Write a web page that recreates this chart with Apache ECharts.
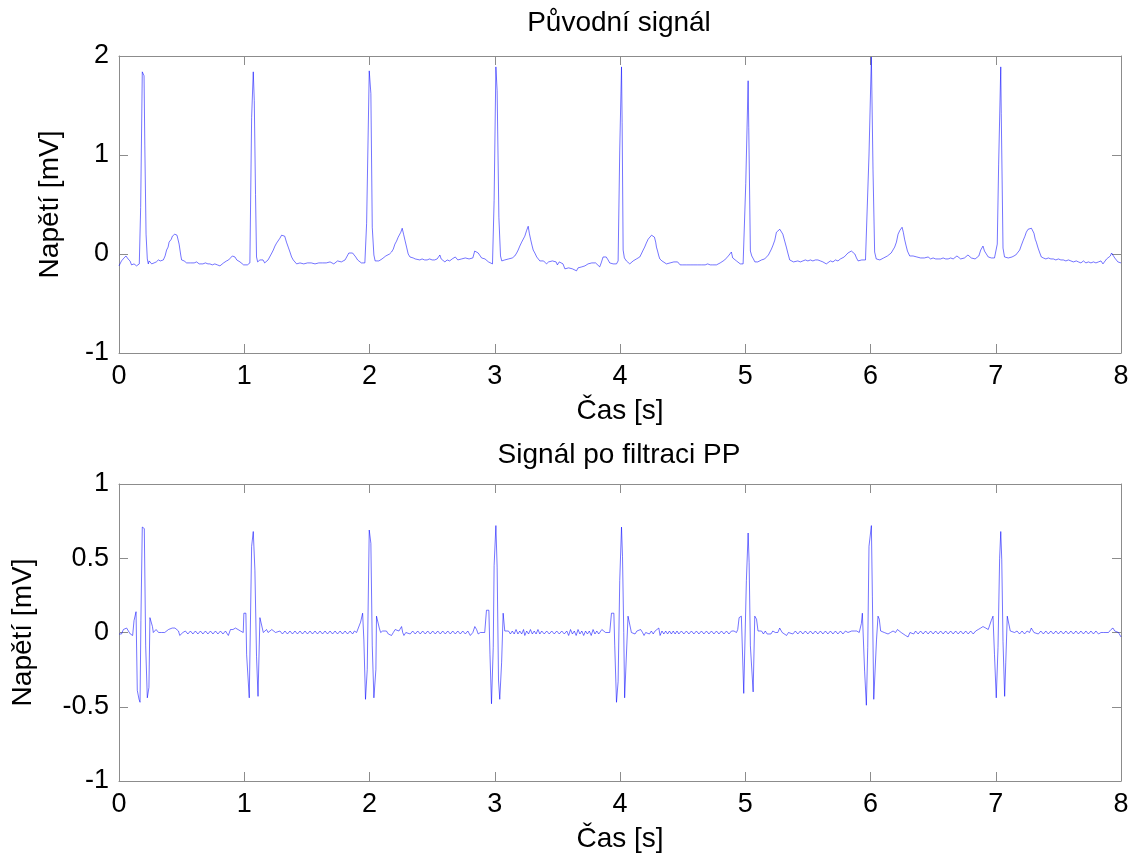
<!DOCTYPE html>
<html>
<head>
<meta charset="utf-8">
<script src="https://cdn.jsdelivr.net/npm/echarts@6/dist/echarts.min.js"></script>
<style>
html,body{margin:0;padding:0;background:#fff;}
#chart{width:1145px;height:857px;}
</style>
</head>
<body>
<div id="chart"></div>
<script>
// ---- DATA (time [s], voltage [mV]) ----
const titleTop = 'Původní signál';
const titleBottom = 'Signál po filtraci PP';
const xName = 'Čas [s]';
const yName = 'Napětí [mV]';
const xTicks = [0, 1, 2, 3, 4, 5, 6, 7, 8];
const yTicksTop = [-1, 0, 1, 2];
const yTicksBottom = [-1, -0.5, 0, 0.5, 1];

const originalSignal = [
[0.000,-0.12],[0.020,-0.07],[0.040,-0.04],[0.056,-0.02],[0.072,-0.05],[0.088,-0.07],[0.100,-0.11],[0.109,-0.12],[0.120,-0.10],[0.128,-0.11],[0.140,-0.12],[0.150,-0.12],[0.162,-0.10],[0.173,0.47],[0.186,1.84],[0.200,1.80],[0.206,1.10],[0.216,0.20],[0.226,-0.05],[0.234,-0.10],[0.241,-0.07],[0.247,-0.06],[0.254,-0.09],[0.261,-0.10],[0.270,-0.08],[0.280,-0.09],[0.287,-0.07],[0.298,-0.08],[0.306,-0.06],[0.314,-0.06],[0.330,-0.07],[0.345,-0.06],[0.354,-0.06],[0.368,-0.02],[0.380,0.04],[0.392,0.07],[0.400,0.12],[0.407,0.14],[0.418,0.15],[0.426,0.18],[0.434,0.19],[0.445,0.20],[0.452,0.21],[0.463,0.19],[0.473,0.17],[0.480,0.10],[0.487,0.04],[0.494,-0.02],[0.500,-0.06],[0.510,-0.08],[0.520,-0.07],[0.527,-0.08],[0.540,-0.09],[0.555,-0.08],[0.570,-0.09],[0.585,-0.08],[0.600,-0.09],[0.620,-0.08],[0.640,-0.10],[0.655,-0.09],[0.670,-0.10],[0.690,-0.09],[0.710,-0.10],[0.726,-0.10],[0.745,-0.11],[0.765,-0.10],[0.785,-0.11],[0.806,-0.12],[0.820,-0.10],[0.835,-0.09],[0.848,-0.11],[0.859,-0.07],[0.875,-0.06],[0.890,-0.04],[0.905,-0.02],[0.918,-0.04],[0.926,-0.03],[0.940,-0.06],[0.952,-0.07],[0.966,-0.08],[0.980,-0.10],[0.995,-0.11],[1.010,-0.12],[1.025,-0.11],[1.035,-0.09],[1.045,-0.09],[1.059,1.38],[1.072,1.84],[1.080,1.55],[1.090,0.60],[1.098,-0.03],[1.107,-0.08],[1.117,-0.10],[1.125,-0.06],[1.135,-0.08],[1.150,-0.06],[1.163,-0.09],[1.178,-0.08],[1.190,-0.06],[1.205,-0.04],[1.220,0.01],[1.232,0.04],[1.245,0.08],[1.258,0.11],[1.272,0.12],[1.285,0.16],[1.298,0.19],[1.311,0.21],[1.323,0.18],[1.337,0.12],[1.351,0.07],[1.365,0.02],[1.378,-0.03],[1.391,-0.06],[1.405,-0.08],[1.418,-0.10],[1.430,-0.08],[1.445,-0.09],[1.460,-0.07],[1.475,-0.10],[1.490,-0.08],[1.505,-0.09],[1.520,-0.07],[1.535,-0.09],[1.550,-0.08],[1.565,-0.10],[1.580,-0.08],[1.595,-0.09],[1.610,-0.07],[1.625,-0.09],[1.640,-0.08],[1.655,-0.09],[1.670,-0.07],[1.685,-0.08],[1.700,-0.07],[1.715,-0.10],[1.730,-0.08],[1.745,-0.07],[1.760,-0.09],[1.775,-0.08],[1.790,-0.07],[1.805,-0.06],[1.820,-0.04],[1.835,0.01],[1.850,0.02],[1.865,0.01],[1.880,0.02],[1.890,-0.03],[1.905,-0.06],[1.920,-0.08],[1.935,-0.09],[1.950,-0.10],[1.963,-0.09],[1.977,0.31],[1.998,1.85],[2.011,1.62],[2.022,0.27],[2.035,-0.01],[2.045,-0.07],[2.060,-0.08],[2.075,-0.07],[2.090,-0.06],[2.100,-0.05],[2.115,-0.04],[2.130,-0.02],[2.145,-0.03],[2.160,0.00],[2.176,0.02],[2.190,0.05],[2.203,0.10],[2.216,0.13],[2.229,0.17],[2.240,0.19],[2.250,0.22],[2.261,0.26],[2.272,0.20],[2.283,0.14],[2.296,0.07],[2.309,0.00],[2.323,-0.03],[2.336,-0.05],[2.349,-0.04],[2.365,-0.05],[2.380,-0.06],[2.402,-0.06],[2.420,-0.05],[2.440,-0.06],[2.460,-0.06],[2.480,-0.05],[2.500,-0.06],[2.520,-0.06],[2.540,-0.05],[2.552,-0.04],[2.562,-0.01],[2.572,-0.05],[2.585,-0.06],[2.602,-0.08],[2.620,-0.06],[2.640,-0.07],[2.660,-0.05],[2.675,-0.06],[2.685,-0.03],[2.695,-0.01],[2.705,-0.06],[2.720,-0.08],[2.735,-0.05],[2.750,-0.07],[2.765,-0.04],[2.780,-0.06],[2.795,-0.05],[2.810,-0.07],[2.825,-0.04],[2.840,0.03],[2.854,0.05],[2.868,0.01],[2.881,-0.01],[2.895,-0.04],[2.910,-0.06],[2.922,-0.05],[2.934,-0.07],[2.950,-0.08],[2.965,-0.06],[2.982,-0.10],[2.995,0.54],[3.009,1.89],[3.019,1.65],[3.033,0.37],[3.046,-0.02],[3.056,-0.07],[3.067,-0.08],[3.080,-0.06],[3.095,-0.07],[3.110,-0.05],[3.125,-0.06],[3.140,-0.04],[3.147,-0.03],[3.160,-0.02],[3.175,0.01],[3.187,0.04],[3.200,0.08],[3.215,0.12],[3.227,0.14],[3.240,0.18],[3.255,0.24],[3.267,0.28],[3.276,0.21],[3.286,0.15],[3.297,0.09],[3.307,0.04],[3.320,0.01],[3.335,-0.03],[3.348,-0.05],[3.360,-0.07],[3.375,-0.08],[3.390,-0.07],[3.413,-0.10],[3.430,-0.08],[3.445,-0.09],[3.460,-0.07],[3.475,-0.09],[3.490,-0.08],[3.500,-0.11],[3.515,-0.08],[3.530,-0.09],[3.545,-0.10],[3.560,-0.15],[3.575,-0.13],[3.590,-0.14],[3.605,-0.12],[3.620,-0.15],[3.635,-0.14],[3.653,-0.17],[3.665,-0.14],[3.680,-0.15],[3.695,-0.13],[3.710,-0.14],[3.720,-0.12],[3.733,-0.12],[3.745,-0.10],[3.760,-0.11],[3.775,-0.09],[3.790,-0.10],[3.805,-0.09],[3.820,-0.11],[3.838,-0.13],[3.850,-0.09],[3.865,-0.03],[3.879,-0.01],[3.890,-0.03],[3.905,-0.06],[3.918,-0.09],[3.930,-0.08],[3.945,-0.10],[3.958,-0.11],[3.972,-0.10],[3.985,-0.07],[3.998,1.05],[4.012,1.89],[4.017,1.33],[4.025,0.04],[4.035,-0.04],[4.051,-0.07],[4.065,-0.09],[4.078,-0.10],[4.090,-0.08],[4.105,-0.07],[4.118,-0.06],[4.131,-0.05],[4.145,-0.04],[4.158,-0.03],[4.170,0.00],[4.185,0.04],[4.197,0.07],[4.210,0.11],[4.225,0.15],[4.240,0.17],[4.252,0.19],[4.264,0.21],[4.275,0.17],[4.285,0.12],[4.291,0.07],[4.300,0.03],[4.310,-0.02],[4.318,-0.05],[4.335,-0.07],[4.350,-0.08],[4.371,-0.10],[4.385,-0.08],[4.400,-0.09],[4.415,-0.07],[4.430,-0.08],[4.445,-0.07],[4.460,-0.08],[4.475,-0.09],[4.480,-0.11],[4.500,-0.11],[4.530,-0.11],[4.560,-0.11],[4.590,-0.11],[4.620,-0.11],[4.650,-0.11],[4.680,-0.11],[4.700,-0.10],[4.720,-0.11],[4.740,-0.11],[4.770,-0.11],[4.785,-0.10],[4.800,-0.09],[4.815,-0.08],[4.836,-0.06],[4.850,-0.04],[4.865,-0.02],[4.880,0.00],[4.889,0.02],[4.900,-0.04],[4.915,-0.06],[4.930,-0.07],[4.945,-0.09],[4.960,-0.10],[4.983,-0.10],[5.004,0.71],[5.023,1.75],[5.028,1.28],[5.041,0.03],[5.052,-0.02],[5.065,-0.05],[5.077,-0.08],[5.089,-0.10],[5.100,-0.08],[5.115,-0.07],[5.130,-0.06],[5.142,-0.06],[5.155,-0.05],[5.170,-0.03],[5.185,-0.01],[5.197,0.02],[5.209,0.05],[5.222,0.09],[5.236,0.14],[5.249,0.22],[5.262,0.23],[5.276,0.25],[5.289,0.26],[5.300,0.20],[5.315,0.13],[5.328,0.07],[5.340,0.01],[5.355,-0.06],[5.370,-0.07],[5.385,-0.08],[5.400,-0.07],[5.420,-0.07],[5.440,-0.08],[5.460,-0.07],[5.480,-0.06],[5.500,-0.07],[5.520,-0.06],[5.540,-0.07],[5.560,-0.06],[5.580,-0.06],[5.600,-0.07],[5.620,-0.08],[5.635,-0.09],[5.647,-0.10],[5.660,-0.08],[5.680,-0.07],[5.700,-0.08],[5.720,-0.06],[5.740,-0.07],[5.760,-0.05],[5.775,-0.04],[5.790,-0.03],[5.805,-0.01],[5.820,0.01],[5.834,0.02],[5.847,0.03],[5.860,0.02],[5.875,0.00],[5.888,-0.04],[5.901,-0.07],[5.914,-0.08],[5.930,-0.06],[5.945,-0.07],[5.960,-0.06],[5.972,-0.05],[5.988,1.00],[6.007,1.99],[6.020,0.85],[6.033,0.02],[6.046,-0.05],[6.060,-0.07],[6.075,-0.06],[6.090,-0.05],[6.105,-0.04],[6.120,-0.03],[6.135,-0.02],[6.150,-0.01],[6.165,0.01],[6.180,0.03],[6.193,0.07],[6.207,0.12],[6.220,0.20],[6.235,0.24],[6.252,0.27],[6.262,0.22],[6.272,0.15],[6.283,0.09],[6.295,0.03],[6.313,-0.02],[6.325,-0.04],[6.340,-0.02],[6.355,-0.04],[6.370,-0.03],[6.385,-0.05],[6.400,-0.04],[6.415,-0.06],[6.430,-0.04],[6.445,-0.05],[6.460,-0.03],[6.480,-0.05],[6.500,-0.04],[6.520,-0.05],[6.540,-0.05],[6.560,-0.05],[6.580,-0.04],[6.600,-0.05],[6.620,-0.05],[6.640,-0.04],[6.660,-0.05],[6.675,-0.04],[6.690,-0.02],[6.705,-0.04],[6.720,-0.05],[6.735,-0.03],[6.750,-0.04],[6.765,-0.02],[6.778,-0.01],[6.790,-0.03],[6.805,-0.04],[6.820,-0.03],[6.835,-0.05],[6.850,-0.04],[6.865,-0.02],[6.880,0.04],[6.898,0.08],[6.910,0.03],[6.925,0.00],[6.940,-0.03],[6.955,-0.05],[6.965,-0.04],[6.978,-0.06],[6.990,-0.04],[7.000,-0.05],[7.012,0.10],[7.023,0.90],[7.040,1.89],[7.044,1.42],[7.058,0.06],[7.070,-0.03],[7.085,-0.04],[7.100,-0.04],[7.115,-0.05],[7.130,-0.03],[7.145,-0.02],[7.160,-0.01],[7.175,0.01],[7.191,0.04],[7.205,0.09],[7.220,0.14],[7.233,0.18],[7.244,0.22],[7.258,0.25],[7.272,0.26],[7.285,0.26],[7.292,0.25],[7.305,0.21],[7.315,0.15],[7.324,0.12],[7.338,0.06],[7.352,0.01],[7.364,-0.03],[7.380,-0.04],[7.400,-0.05],[7.420,-0.04],[7.440,-0.05],[7.460,-0.05],[7.480,-0.06],[7.500,-0.05],[7.520,-0.06],[7.540,-0.06],[7.560,-0.07],[7.580,-0.06],[7.600,-0.07],[7.620,-0.08],[7.643,-0.07],[7.660,-0.08],[7.680,-0.09],[7.700,-0.07],[7.720,-0.09],[7.740,-0.08],[7.760,-0.09],[7.780,-0.08],[7.800,-0.09],[7.820,-0.08],[7.840,-0.07],[7.856,-0.10],[7.870,-0.08],[7.885,-0.05],[7.900,-0.05],[7.915,-0.02],[7.925,0.01],[7.936,0.02],[7.950,-0.04],[7.962,-0.03],[7.975,-0.08],[7.990,-0.07],[8.000,-0.09]
];

const filteredSignal = [
[0.000,-0.01],[0.010,0.00],[0.020,-0.01],[0.035,0.02],[0.050,0.03],[0.061,0.03],[0.075,0.01],[0.090,-0.01],[0.109,-0.02],[0.120,0.08],[0.136,0.14],[0.146,-0.39],[0.160,-0.45],[0.168,-0.47],[0.175,0.08],[0.186,0.71],[0.202,0.70],[0.213,-0.09],[0.226,-0.44],[0.239,-0.37],[0.247,0.10],[0.258,0.11],[0.267,0.04],[0.274,0.00],[0.285,0.01],[0.296,0.02],[0.306,0.01],[0.316,0.00],[0.328,0.01],[0.340,0.00],[0.352,0.01],[0.365,0.00],[0.380,0.01],[0.395,0.02],[0.410,0.02],[0.425,0.03],[0.440,0.03],[0.447,0.03],[0.460,0.02],[0.475,0.01],[0.485,-0.02],[0.498,-0.02],[0.510,0.00],[0.530,0.01],[0.550,-0.01],[0.570,0.01],[0.590,-0.01],[0.610,0.01],[0.630,-0.01],[0.650,0.01],[0.670,-0.01],[0.690,0.01],[0.710,-0.01],[0.730,0.01],[0.750,-0.01],[0.770,0.01],[0.790,-0.01],[0.810,0.01],[0.830,-0.01],[0.850,0.01],[0.873,-0.02],[0.890,0.02],[0.910,0.02],[0.930,0.03],[0.950,0.02],[0.970,0.01],[0.992,0.00],[0.997,0.13],[1.013,0.13],[1.019,-0.15],[1.040,-0.44],[1.059,0.58],[1.072,0.68],[1.085,0.42],[1.098,-0.16],[1.110,-0.43],[1.125,0.10],[1.138,0.09],[1.152,0.00],[1.165,0.01],[1.178,0.02],[1.190,0.00],[1.205,-0.01],[1.220,0.02],[1.235,0.01],[1.250,0.00],[1.265,-0.01],[1.285,0.01],[1.305,-0.01],[1.325,0.01],[1.345,-0.01],[1.365,0.01],[1.385,-0.01],[1.405,0.01],[1.425,-0.01],[1.445,0.01],[1.465,-0.01],[1.485,0.01],[1.505,-0.01],[1.525,0.01],[1.545,-0.01],[1.565,0.01],[1.585,-0.01],[1.605,0.01],[1.625,-0.01],[1.645,0.01],[1.665,-0.01],[1.685,0.01],[1.705,-0.01],[1.725,0.01],[1.745,-0.01],[1.765,0.01],[1.785,-0.01],[1.805,0.01],[1.825,-0.01],[1.845,0.01],[1.865,-0.01],[1.880,0.01],[1.897,0.00],[1.910,-0.01],[1.929,0.07],[1.945,0.13],[1.955,-0.05],[1.968,-0.45],[1.982,-0.25],[1.998,0.69],[2.011,0.60],[2.022,-0.09],[2.035,-0.44],[2.051,-0.25],[2.056,0.11],[2.065,0.12],[2.078,0.03],[2.089,0.00],[2.105,0.01],[2.120,0.00],[2.135,0.01],[2.150,-0.01],[2.165,0.00],[2.176,-0.02],[2.190,0.00],[2.205,0.02],[2.220,0.01],[2.235,0.01],[2.250,0.02],[2.256,0.04],[2.265,0.00],[2.275,-0.02],[2.290,0.00],[2.305,0.01],[2.325,-0.01],[2.345,0.01],[2.365,-0.01],[2.385,0.01],[2.405,-0.01],[2.425,0.01],[2.445,-0.01],[2.465,0.01],[2.485,-0.01],[2.505,0.01],[2.525,-0.01],[2.545,0.01],[2.565,-0.01],[2.585,0.01],[2.605,-0.01],[2.625,0.01],[2.645,-0.01],[2.665,0.01],[2.685,-0.01],[2.705,0.01],[2.725,-0.01],[2.745,0.01],[2.765,-0.01],[2.785,0.01],[2.805,-0.02],[2.825,0.00],[2.841,0.04],[2.855,0.02],[2.868,-0.01],[2.885,0.00],[2.900,0.01],[2.920,0.00],[2.934,0.15],[2.953,0.15],[2.962,-0.15],[2.974,-0.48],[2.988,-0.10],[2.995,0.45],[3.009,0.72],[3.019,0.44],[3.030,-0.32],[3.040,-0.45],[3.055,-0.20],[3.067,0.13],[3.080,0.01],[3.095,0.00],[3.110,0.01],[3.125,-0.01],[3.140,0.01],[3.155,-0.01],[3.170,0.02],[3.185,-0.01],[3.200,0.01],[3.215,-0.01],[3.230,0.02],[3.240,-0.02],[3.255,0.01],[3.270,-0.01],[3.285,0.02],[3.300,-0.01],[3.315,0.01],[3.330,-0.01],[3.345,0.02],[3.360,-0.01],[3.375,0.01],[3.395,-0.01],[3.415,0.01],[3.435,-0.01],[3.455,0.01],[3.475,-0.01],[3.495,0.01],[3.515,-0.01],[3.535,0.01],[3.555,-0.01],[3.575,0.01],[3.590,-0.02],[3.605,0.02],[3.620,-0.01],[3.635,0.01],[3.650,-0.02],[3.665,0.02],[3.680,-0.01],[3.695,0.01],[3.710,-0.02],[3.725,0.01],[3.740,-0.01],[3.755,0.01],[3.770,-0.02],[3.785,0.02],[3.800,-0.01],[3.815,0.01],[3.830,-0.01],[3.839,0.00],[3.855,0.02],[3.870,0.01],[3.885,0.00],[3.900,0.01],[3.918,0.00],[3.932,0.13],[3.951,0.13],[3.958,-0.09],[3.972,-0.47],[3.985,-0.33],[3.998,0.35],[4.012,0.71],[4.020,0.51],[4.030,0.00],[4.037,-0.44],[4.050,-0.43],[4.064,0.11],[4.078,0.11],[4.091,0.00],[4.105,0.01],[4.120,-0.01],[4.135,0.01],[4.150,0.00],[4.165,0.02],[4.180,0.00],[4.192,-0.02],[4.205,0.00],[4.220,0.01],[4.235,-0.01],[4.250,0.01],[4.265,-0.01],[4.280,0.01],[4.295,0.00],[4.310,0.03],[4.320,-0.02],[4.335,0.01],[4.350,-0.01],[4.365,0.01],[4.380,-0.01],[4.395,0.01],[4.410,-0.01],[4.425,0.01],[4.440,-0.01],[4.455,0.01],[4.470,-0.01],[4.490,0.01],[4.510,-0.01],[4.530,0.01],[4.550,-0.01],[4.570,0.01],[4.590,-0.01],[4.610,0.01],[4.630,-0.01],[4.650,0.01],[4.670,-0.01],[4.690,0.01],[4.710,-0.01],[4.730,0.01],[4.750,-0.01],[4.770,0.01],[4.790,-0.01],[4.810,0.01],[4.830,-0.01],[4.850,0.01],[4.870,-0.01],[4.890,0.01],[4.910,0.01],[4.930,0.00],[4.940,0.02],[4.951,0.10],[4.969,0.11],[4.988,-0.41],[5.001,-0.42],[5.009,0.35],[5.023,0.67],[5.031,0.47],[5.041,-0.09],[5.063,-0.40],[5.076,0.11],[5.090,0.09],[5.102,0.01],[5.115,0.00],[5.130,0.01],[5.145,-0.01],[5.160,0.01],[5.175,-0.01],[5.190,0.00],[5.205,-0.01],[5.220,0.01],[5.240,0.00],[5.260,0.00],[5.275,0.03],[5.290,0.03],[5.295,0.00],[5.310,-0.01],[5.330,-0.02],[5.345,0.00],[5.360,0.01],[5.380,-0.01],[5.400,0.01],[5.420,-0.01],[5.440,0.01],[5.460,-0.01],[5.480,0.01],[5.500,-0.01],[5.520,0.01],[5.540,-0.01],[5.560,0.01],[5.580,-0.01],[5.600,0.01],[5.620,-0.01],[5.640,0.01],[5.660,-0.01],[5.680,0.01],[5.700,-0.01],[5.720,0.01],[5.740,-0.01],[5.760,0.01],[5.780,-0.01],[5.800,0.01],[5.820,0.00],[5.834,0.01],[5.850,0.01],[5.870,0.01],[5.890,0.01],[5.910,0.00],[5.927,0.06],[5.935,0.13],[5.948,0.13],[5.953,-0.26],[5.967,-0.49],[5.978,-0.10],[5.988,0.58],[6.007,0.72],[6.015,0.24],[6.026,-0.45],[6.036,-0.45],[6.048,-0.05],[6.060,0.11],[6.070,0.09],[6.081,0.01],[6.095,0.00],[6.110,0.00],[6.125,0.01],[6.140,-0.01],[6.160,0.00],[6.180,0.01],[6.200,0.00],[6.215,0.02],[6.230,0.03],[6.245,0.00],[6.260,-0.01],[6.280,-0.02],[6.300,-0.03],[6.315,0.00],[6.330,0.01],[6.345,-0.01],[6.360,0.01],[6.380,-0.01],[6.400,0.01],[6.420,-0.01],[6.440,0.01],[6.460,-0.01],[6.480,0.01],[6.500,-0.01],[6.520,0.01],[6.540,-0.01],[6.560,0.01],[6.580,-0.01],[6.600,0.01],[6.620,-0.01],[6.640,0.01],[6.660,-0.01],[6.680,0.01],[6.700,-0.01],[6.720,0.01],[6.740,-0.01],[6.760,0.01],[6.780,-0.01],[6.800,0.01],[6.820,-0.01],[6.840,0.01],[6.860,0.02],[6.880,0.03],[6.898,0.04],[6.920,0.03],[6.940,0.02],[6.952,0.02],[6.964,0.08],[6.978,0.11],[6.990,-0.15],[7.004,-0.44],[7.018,-0.10],[7.031,0.50],[7.040,0.68],[7.048,0.49],[7.058,-0.06],[7.071,-0.43],[7.080,-0.20],[7.092,0.11],[7.103,0.10],[7.116,0.01],[7.130,0.00],[7.150,0.00],[7.170,0.01],[7.190,-0.01],[7.210,0.01],[7.230,-0.01],[7.250,0.01],[7.270,0.00],[7.284,0.03],[7.295,0.02],[7.305,0.00],[7.320,0.01],[7.340,-0.01],[7.360,0.01],[7.380,-0.01],[7.400,0.01],[7.420,-0.01],[7.440,0.01],[7.460,-0.01],[7.480,0.01],[7.500,-0.01],[7.520,0.01],[7.540,-0.01],[7.560,0.01],[7.580,-0.01],[7.600,0.01],[7.620,-0.01],[7.640,0.01],[7.660,-0.01],[7.680,0.01],[7.700,-0.01],[7.720,0.01],[7.740,-0.01],[7.760,0.01],[7.780,-0.01],[7.800,0.01],[7.820,-0.01],[7.840,0.00],[7.860,0.00],[7.880,0.00],[7.900,0.00],[7.920,0.02],[7.936,0.03],[7.950,0.01],[7.965,0.00],[7.980,0.00],[7.990,-0.01],[8.000,-0.03]
];

// ---- CHART ----
const FONT = 'Liberation Sans, Arial, Helvetica, sans-serif';
const AX = '#8c8c8c';
const LBL = 27;   // tick labels
const TXT = 28;   // titles and axis names

function xAxisPair(gridIndex) {
  const base = {
    type: 'value', gridIndex, min: xTicks[0], max: xTicks[xTicks.length - 1], interval: 1,
    splitLine: { show: false },
    axisLine: { show: true, onZero: false, lineStyle: { color: AX, width: 1 } },
    axisTick: { show: true, inside: true, length: 9, lineStyle: { color: AX } }
  };
  return [
    Object.assign({}, base, {
      position: 'bottom',
      axisLabel: { show: true, color: '#000', fontSize: LBL, fontFamily: FONT, margin: 10 },
      name: xName, nameLocation: 'middle', nameGap: 44,
      nameTextStyle: { color: '#000', fontSize: TXT, fontFamily: FONT }
    }),
    Object.assign({}, base, { position: 'top', axisLabel: { show: false } })
  ];
}
function yAxisPair(gridIndex, ticks, gap) {
  const base = {
    type: 'value', gridIndex, min: ticks[0], max: ticks[ticks.length - 1],
    interval: ticks[1] - ticks[0],
    splitLine: { show: false },
    axisLine: { show: true, onZero: false, lineStyle: { color: AX, width: 1 } },
    axisTick: { show: true, inside: true, length: 9, lineStyle: { color: AX } }
  };
  return [
    Object.assign({}, base, {
      position: 'left',
      axisLabel: { show: true, color: '#000', fontSize: LBL, fontFamily: FONT, margin: 10 },
      name: yName, nameLocation: 'middle', nameGap: gap, nameRotate: 90,
      nameTextStyle: { color: '#000', fontSize: TXT, fontFamily: FONT }
    }),
    Object.assign({}, base, { position: 'right', axisLabel: { show: false } })
  ];
}

const chart = echarts.init(document.getElementById('chart'), null, { renderer: 'canvas' });
chart.setOption({
  backgroundColor: '#ffffff',
  animation: false,
  grid: [
    { left: 119, top: 56, width: 1002, height: 297, containLabel: false },
    { left: 119, top: 484, width: 1002, height: 297, containLabel: false }
  ],
  xAxis: [].concat(xAxisPair(0), xAxisPair(1)),
  yAxis: [].concat(yAxisPair(0, yTicksTop, 55), yAxisPair(1, yTicksBottom, 82)),
  graphic: [
    { type: 'text', x: 619, y: 23, style: { text: titleTop, fill: '#000', font: TXT + 'px ' + FONT, textAlign: 'center', textVerticalAlign: 'middle' } },
    { type: 'text', x: 619, y: 455, style: { text: titleBottom, fill: '#000', font: TXT + 'px ' + FONT, textAlign: 'center', textVerticalAlign: 'middle' } }
  ],
  series: [
    { type: 'line', xAxisIndex: 0, yAxisIndex: 0, data: originalSignal, showSymbol: false, symbol: 'none',
      lineStyle: { color: '#0000ff', width: 0.55 }, silent: true },
    { type: 'line', xAxisIndex: 2, yAxisIndex: 2, data: filteredSignal, showSymbol: false, symbol: 'none',
      lineStyle: { color: '#0000ff', width: 0.55 }, silent: true }
  ]
});
</script>
</body>
</html>
